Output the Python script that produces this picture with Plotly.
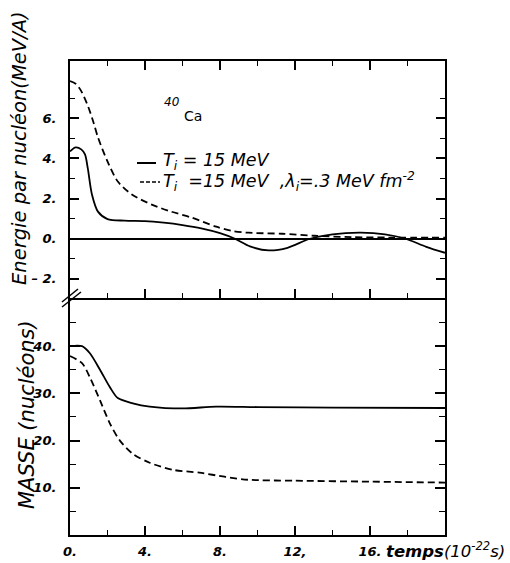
import plotly.graph_objects as go
from plotly.subplots import make_subplots

# ---- data (time in 10^-22 s) ----
t_e_solid = [0, 0.3, 0.6, 0.8, 0.95, 1.17, 1.49, 2.0, 2.9, 4.0, 5.0, 6.0, 7.0, 8.0, 8.8, 9.6, 10.6, 11.6, 12.8, 14.0, 15.5, 16.8, 17.9, 19.0, 20.0]
e_solid   = [4.35, 4.55, 4.45, 4.2, 3.5, 2.2, 1.35, 0.98, 0.9, 0.88, 0.8, 0.68, 0.52, 0.28, 0.0, -0.38, -0.58, -0.45, 0.0, 0.22, 0.3, 0.22, 0.0, -0.4, -0.7]

t_e_dash = [0, 0.3, 0.6, 0.96, 1.25, 1.49, 2.0, 2.55, 3.3, 4.36, 5.4, 6.5, 7.8, 8.7, 9.5, 11.3, 13.0, 15.0, 17.0, 20.0]
e_dash   = [7.85, 7.72, 7.35, 6.6, 5.8, 5.05, 3.85, 2.85, 2.2, 1.7, 1.35, 1.05, 0.6, 0.38, 0.3, 0.25, 0.15, 0.08, 0.06, 0.05]

t_m_solid = [0, 0.64, 1.06, 1.6, 2.13, 2.55, 3.35, 4.25, 6.0, 7.8, 10.0, 14.0, 20.0]
m_solid   = [40.0, 40.0, 38.5, 35.0, 31.3, 29.0, 27.9, 27.2, 26.8, 27.2, 27.1, 27.0, 26.9]

t_m_dash = [0, 0.64, 1.06, 1.6, 2.13, 2.66, 3.35, 4.25, 5.5, 6.9, 8.3, 9.5, 12.0, 16.0, 20.0]
m_dash   = [37.9, 36.4, 33.4, 28.5, 23.6, 20.0, 17.2, 15.3, 13.8, 13.2, 12.3, 11.7, 11.5, 11.3, 11.1]

x_tickvals = [0, 4, 8, 12, 16]
x_ticktext = ["0.", "4.", "8.", "12,", "16."]
e_tickvals = [-2, 0, 2, 4, 6]
e_ticktext = ["– 2.", "0.", "2.", "4.", "6."]
m_tickvals = [10, 20, 30, 40]
m_ticktext = ["10.", "20.", "30.", "40."]

legend_solid = "T<sub>i</sub> = 15 MeV"
legend_dash = "T<sub>i</sub>  =15 MeV  ,λ<sub>i</sub>=.3 MeV fm<sup>-2</sup>"

# ---- figure ----
fig = make_subplots(rows=2, cols=1, vertical_spacing=0)

lw = 1.8
dash = "7px,4px"
fig.add_trace(go.Scatter(x=t_e_solid, y=e_solid, mode="lines",
                         line=dict(color="black", width=lw, shape="spline", smoothing=0.8)), row=1, col=1)
fig.add_trace(go.Scatter(x=t_e_dash, y=e_dash, mode="lines",
                         line=dict(color="black", width=lw, dash=dash, shape="spline", smoothing=0.8)), row=1, col=1)
fig.add_trace(go.Scatter(x=t_m_solid, y=m_solid, mode="lines",
                         line=dict(color="black", width=lw, shape="spline", smoothing=0.8)), row=2, col=1)
fig.add_trace(go.Scatter(x=t_m_dash, y=m_dash, mode="lines",
                         line=dict(color="black", width=lw, dash=dash, shape="spline", smoothing=0.8)), row=2, col=1)

tickfont = dict(family="DejaVu Sans", size=13, color="black", style="italic", weight="bold")

common_x = dict(range=[0, 20], showgrid=False, zeroline=False, showline=True, linecolor="black",
                linewidth=2, ticks="inside", ticklen=9, tickwidth=1.5, tickcolor="black",
                tickvals=x_tickvals, automargin=False,
                minor=dict(ticks="inside", ticklen=5, tickwidth=1.3, tickcolor="black", dtick=2, tick0=0, showgrid=False))
fig.update_xaxes(**common_x, mirror="ticks", showticklabels=False, domain=[0, 1], row=1, col=1)
fig.update_xaxes(**common_x, mirror=False, ticktext=x_ticktext, tickfont=tickfont, ticklabelstandoff=3,
                 domain=[0, 1], row=2, col=1)

fig.update_yaxes(range=[-2.95, 8.85], showgrid=False, zeroline=True, zerolinecolor="black", zerolinewidth=1.6,
                 showline=True, linecolor="black", linewidth=2, mirror="ticks", automargin=False,
                 ticks="inside", ticklen=9, tickwidth=1.5, tickcolor="black",
                 tickvals=e_tickvals, ticktext=e_ticktext, tickfont=tickfont, ticklabelstandoff=9,
                 minor=dict(ticks="inside", ticklen=5, tickwidth=1.3, tickcolor="black", dtick=2, tick0=1, showgrid=False),
                 domain=[0.5, 1.0], row=1, col=1)
fig.update_yaxes(range=[0, 50.2], showgrid=False, zeroline=False,
                 showline=True, linecolor="black", linewidth=2, mirror="ticks", automargin=False,
                 ticks="inside", ticklen=10, tickwidth=1.5, tickcolor="black",
                 tickvals=m_tickvals, ticktext=m_ticktext, tickfont=tickfont, ticklabelstandoff=9,
                 minor=dict(ticks="inside", ticklen=6, tickwidth=1.3, tickcolor="black", dtick=10, tick0=5, showgrid=False),
                 domain=[0.0, 0.5], row=2, col=1)

W, H = 510, 563
L, T = 70, 61
pw, ph = 375, 474
R, B = W - L - pw, H - T - ph


def px(x):
    return (x - L) / pw


def py(y):
    return (T + ph - y) / ph


ann_font = dict(family="DejaVu Sans", color="black")
annotations = [
    dict(x=px(19), y=py(148), text="Energie par nucléon(MeV/A)", textangle=-90,
         font=dict(**ann_font, size=19.5, style="italic")),
    dict(x=px(27), y=py(415), text="MASSE (nucléons)", textangle=-90,
         font=dict(**ann_font, size=21, style="italic")),
    dict(x=px(172), y=py(102), text="40", font=dict(**ann_font, size=12, style="italic")),
    dict(x=px(193), y=py(116), text="Ca", font=dict(**ann_font, size=14)),
    dict(x=px(161), y=py(162), text=legend_solid, xanchor="left",
         font=dict(**ann_font, size=17.5, style="italic")),
    dict(x=px(161), y=py(181), text=legend_dash, xanchor="left",
         font=dict(**ann_font, size=17.5, style="italic")),
    dict(x=px(384), y=py(550), text="<b>temps</b>(10<sup>-22</sup>s)", xanchor="left",
         font=dict(**ann_font, size=16.5, style="italic")),
]
for a in annotations:
    a.update(xref="paper", yref="paper", showarrow=False)
    a.setdefault("xanchor", "center")
    a.setdefault("yanchor", "middle")

shapes = [
    dict(type="line", xref="paper", yref="paper", x0=px(137), x1=px(156), y0=py(163), y1=py(163),
         line=dict(color="black", width=2)),
    dict(type="line", xref="paper", yref="paper", x0=px(140), x1=px(160), y0=py(182), y1=py(182),
         line=dict(color="black", width=1.5, dash="4px,2px")),
    dict(type="line", xref="paper", yref="paper", x0=px(62), x1=px(81), y0=py(307), y1=py(292),
         line=dict(color="black", width=1.5)),
    dict(type="line", xref="paper", yref="paper", x0=px(62), x1=px(78), y0=py(302), y1=py(289),
         line=dict(color="black", width=1.5)),
]

fig.update_layout(width=W, height=H, margin=dict(l=L, r=R, t=T, b=B, autoexpand=False),
                  paper_bgcolor="white", plot_bgcolor="white", showlegend=False,
                  annotations=annotations, shapes=shapes)

# remove the browser's default 8px body margin so the figure fills the window exactly
fig.write_html("out.html", config={"displayModeBar": False},
               post_script="document.body.style.margin='0';document.body.style.overflow='hidden';")
